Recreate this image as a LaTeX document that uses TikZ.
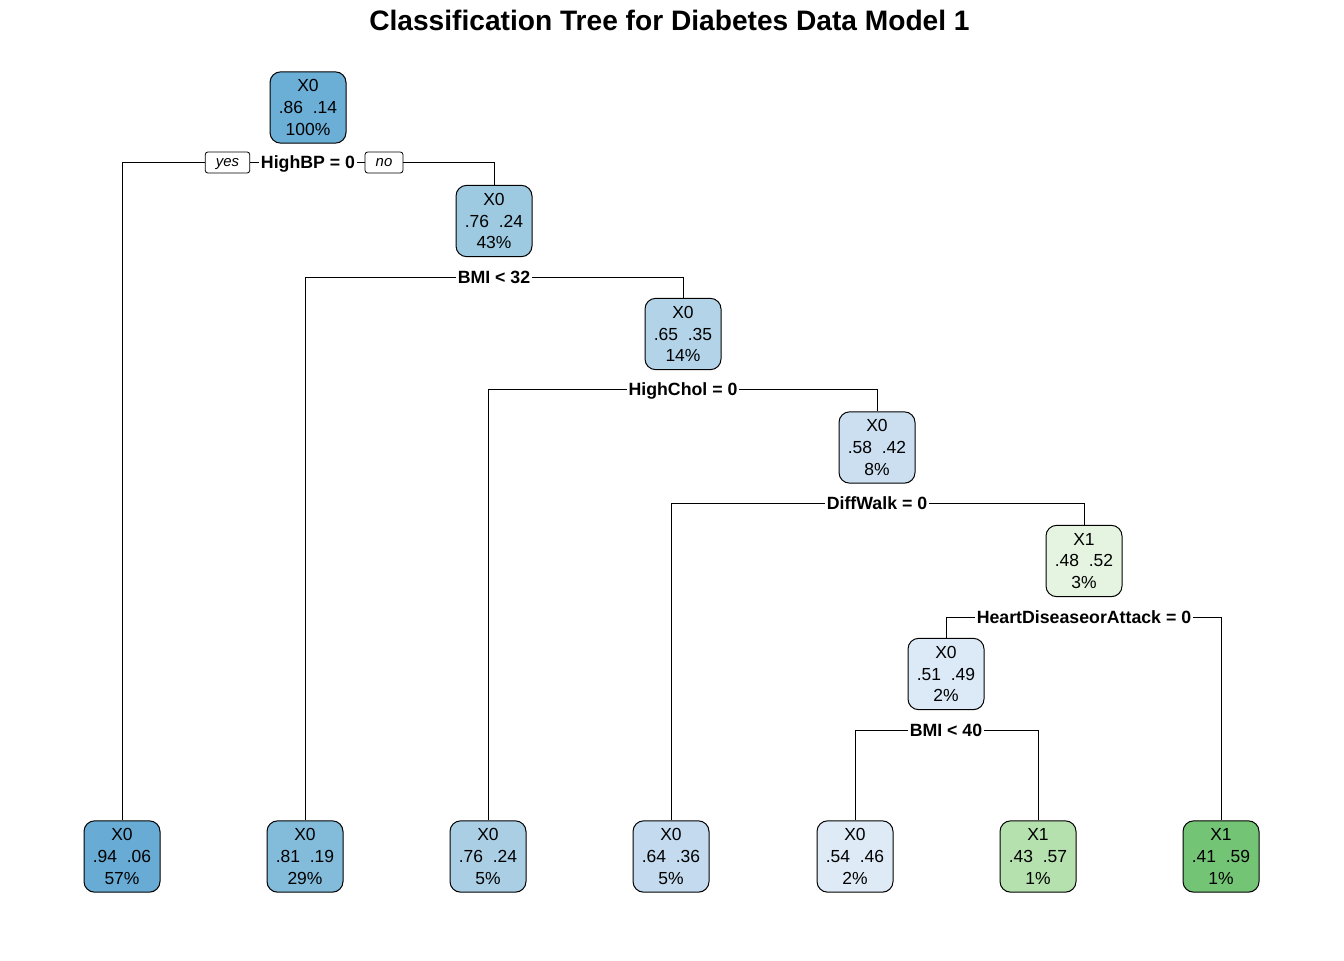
\documentclass[tikz,border=0pt]{standalone}
\usepackage{fontspec}
\setmainfont{Liberation Sans}
\begin{document}
\begin{tikzpicture}[x=0.75pt,y=-0.75pt,
  treenode/.style={draw=black, line width=0.75pt, rounded corners=8pt,
    minimum width=57pt, minimum height=53.5pt, inner sep=0pt, align=center,
    font=\fontsize{13.1}{16.2}\selectfont},
  splitlabel/.style={inner xsep=1.2pt, inner ysep=0pt,
    text height=9.4pt, text depth=0pt,
    font=\fontsize{13.3}{15}\selectfont\bfseries},
  yesno/.style={draw=black, line width=0.6pt, rounded corners=2pt,
    minimum height=15.75pt, inner xsep=8pt, inner ysep=0pt,
    text height=5.8pt, text depth=0pt,
    font=\fontsize{11.2}{13}\selectfont\itshape},
  edge/.style={draw=black, line width=0.75pt}]
\useasboundingbox (0,0) rectangle (1344,960);

\definecolor{cA}{HTML}{6BAED6}
\definecolor{cB}{HTML}{68ACD5}
\definecolor{cC}{HTML}{83BBDB}
\definecolor{cD}{HTML}{9DCAE1}
\definecolor{cE}{HTML}{AACFE5}
\definecolor{cF}{HTML}{B3D4E8}
\definecolor{cG}{HTML}{C4DAEF}
\definecolor{cH}{HTML}{CCDFF1}
\definecolor{cI}{HTML}{DCE9F6}
\definecolor{cJ}{HTML}{DEEAF6}
\definecolor{cK}{HTML}{E5F4E0}
\definecolor{cL}{HTML}{B5E1AE}
\definecolor{cM}{HTML}{74C476}

% title
\node[anchor=base, font=\fontsize{21.1}{24}\selectfont\bfseries] (title) at (669.5,30)
  {Classification Tree for Diabetes Data Model 1};

% internal nodes
\node[treenode, fill=cA] (root) at (308,107.5) {X0\\.86\ \ .14\\100\%};
\node[treenode, fill=cD] (n2) at (494,221) {X0\\.76\ \ .24\\43\%};
\node[treenode, fill=cF] (n3) at (683,334) {X0\\.65\ \ .35\\14\%};
\node[treenode, fill=cH] (n4) at (877,447.5) {X0\\.58\ \ .42\\8\%};
\node[treenode, fill=cK] (n5) at (1084,561) {X1\\.48\ \ .52\\3\%};
\node[treenode, fill=cI] (n6) at (946,674) {X0\\.51\ \ .49\\2\%};

% leaves
\node[treenode, fill=cB] (l1) at (122,856.5) {X0\\.94\ \ .06\\57\%};
\node[treenode, fill=cC] (l2) at (305,856.5) {X0\\.81\ \ .19\\29\%};
\node[treenode, fill=cE] (l3) at (488,856.5) {X0\\.76\ \ .24\\5\%};
\node[treenode, fill=cG] (l4) at (671,856.5) {X0\\.64\ \ .36\\5\%};
\node[treenode, fill=cJ] (l5) at (855,856.5) {X0\\.54\ \ .46\\2\%};
\node[treenode, fill=cL] (l6) at (1038,856.5) {X1\\.43\ \ .57\\1\%};
\node[treenode, fill=cM] (l7) at (1221,856.5) {X1\\.41\ \ .59\\1\%};

% split labels
\node[splitlabel] (s1) at (308,162) {HighBP = 0};
\node[yesno] (yes) at (227.5,162.5) {yes};
\node[yesno] (no) at (384,162.5) {no};
\node[splitlabel] (s2) at (494,277) {BMI < 32};
\node[splitlabel] (s3) at (683,389.5) {HighChol = 0};
\node[splitlabel] (s4) at (877,503) {DiffWalk = 0};
\node[splitlabel] (s5) at (1084,617) {HeartDiseaseorAttack = 0};
\node[splitlabel] (s6) at (946,730) {BMI < 40};

% connectors
\draw[edge] (yes.west) -| (l1.north);
\draw[edge] (yes.east) -- (yes.east -| s1.west);
\draw[edge] (s1.east) -- (s1.east -| no.west);
\draw[edge] (no.east) -| (n2.north);
\draw[edge] (s2.west) -| (l2.north);
\draw[edge] (s2.east) -| (n3.north);
\draw[edge] (s3.west) -| (l3.north);
\draw[edge] (s3.east) -| (n4.north);
\draw[edge] (s4.west) -| (l4.north);
\draw[edge] (s4.east) -| (n5.north);
\draw[edge] (s5.west) -| (n6.north);
\draw[edge] (s5.east) -| (l7.north);
\draw[edge] (s6.west) -| (l5.north);
\draw[edge] (s6.east) -| (l6.north);
\end{tikzpicture}
\end{document}
